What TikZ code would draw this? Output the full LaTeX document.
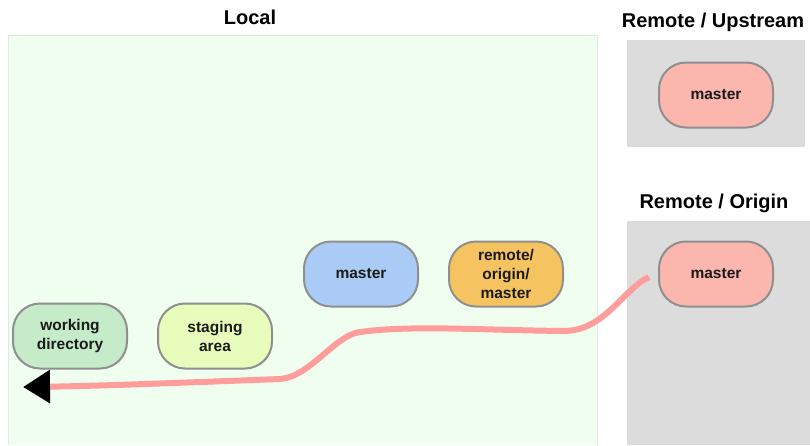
\documentclass[tikz,border=0pt]{standalone}
\usepackage{fontspec}
\setmainfont{Liberation Sans}
\usetikzlibrary{arrows.meta,calc}
\definecolor{localfill}{HTML}{F0FEF0}
\definecolor{localline}{HTML}{DFEBDF}
\definecolor{remotefill}{HTML}{DCDCDC}
\definecolor{nodeline}{HTML}{8F8F8F}
\definecolor{wdfill}{HTML}{C5EBC8}
\definecolor{stfill}{HTML}{E8FCBC}
\definecolor{mafill}{HTML}{A9CBF5}
\definecolor{romfill}{HTML}{F5C460}
\definecolor{remfill}{HTML}{FBB6AE}
\definecolor{flow}{HTML}{FF9C9C}
\definecolor{ink}{HTML}{1A1A1A}
\tikzset{
  branch/.style={draw=nodeline, line width=2pt, rounded corners=27pt,
    minimum width=114pt, minimum height=65pt, inner sep=0pt, align=center,
    text=ink, font=\fontsize{15.5}{19}\selectfont\bfseries},
  title/.style={text=black, font=\fontsize{20}{24}\selectfont\bfseries, inner sep=0pt},
  flowline/.style={draw=flow, line width=6pt, line cap=butt,
    -{Triangle[length=27pt,width=32pt,color=black]}}
}
\begin{document}
\begin{tikzpicture}[x=1pt,y=-1pt]
\useasboundingbox (0,0) rectangle (810,445);
% areas
\fill[localfill] (8,35) rectangle (597,445);
\draw[localline, line width=1pt] (8,445) -- (8,35) -- (597,35) -- (597,445);
\fill[remotefill] (627,40) rectangle (805,147);
\fill[remotefill] (627,221) rectangle (810,445);
% titles
\node[title] (tlocal) at (250,17) {Local};
\node[title] (tup) at (713,22) {Remote / Upstream};
\node[title] (torigin) at (714,203) {Remote / Origin};
% branches
\node[branch, fill=wdfill] (wd) at (70,336) {working\\directory};
\node[branch, fill=stfill] (st) at (215,336) {staging\\area};
\node[branch, fill=mafill] (ma) at (361,274) {master};
\node[branch, fill=romfill] (rom) at (506,274) {remote/\\origin/\\master};
\node[branch, fill=remfill] (um) at (716,95) {master};
\node[branch, fill=remfill] (om) at (716,274) {master};
% flow from origin into the working directory
\coordinate (fstart) at ($(om.west)+(-9,3)$);
\coordinate (ftip) at (23,387);
\draw[flowline] (fstart) .. controls (622,290) and (605,331) .. (563,331)
  .. controls (480,330) and (410,325) .. (360,332)
  .. controls (335,335) and (310,377) .. (280,379)
  .. controls (200,382) and (100,386) .. (ftip);
\end{tikzpicture}
\end{document}
